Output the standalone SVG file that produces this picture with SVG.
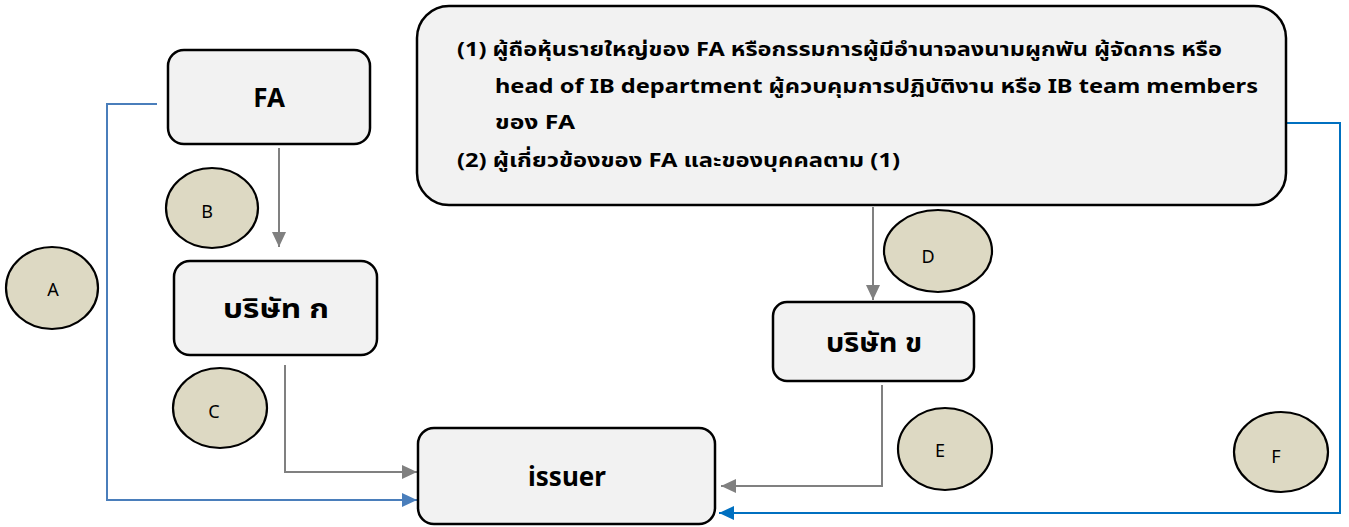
<svg xmlns="http://www.w3.org/2000/svg" width="1349" height="527" viewBox="0 0 1349 527">
<defs>
<style>
.node{fill:#f2f2f2;stroke:#000;stroke-width:2.5}
.lbl{font-family:"Noto Sans","Noto Sans Thai","Liberation Sans",sans-serif;font-size:26px;font-weight:bold;fill:#000;text-anchor:middle}
.circ{fill:#ddd9c3;stroke:#000;stroke-width:2.2}
.cl{font-family:"Noto Sans","Liberation Sans",sans-serif;font-size:18px;fill:#000;text-anchor:middle}
.txt{font-family:"Noto Sans","Noto Sans Thai","Liberation Sans",sans-serif;font-size:20px;font-weight:bold;fill:#000}
.gray{fill:none;stroke:#808080;stroke-width:2}
.blueL{fill:none;stroke:#4a7ebb;stroke-width:2}
.blueR{fill:none;stroke:#0070c0;stroke-width:2}
</style>
<marker id="ag" markerWidth="16" markerHeight="14" refX="15" refY="7" orient="auto" markerUnits="userSpaceOnUse"><path d="M0,0 L15,7 L0,14 Z" fill="#808080"/></marker>
<marker id="abL" markerWidth="16" markerHeight="14" refX="15" refY="7" orient="auto" markerUnits="userSpaceOnUse"><path d="M0,0 L15,7 L0,14 Z" fill="#4a7ebb"/></marker>
<marker id="abR" markerWidth="16" markerHeight="14" refX="15" refY="7" orient="auto" markerUnits="userSpaceOnUse"><path d="M0,0 L15,7 L0,14 Z" fill="#0070c0"/></marker>
</defs>
<rect width="1349" height="527" fill="#fff"/>
<g id="connectors">
<path class="blueL" d="M157,104 H107 V500 H417" marker-end="url(#abL)"/>
<path class="gray" d="M279,148 V247" marker-end="url(#ag)"/>
<path class="gray" d="M285,365 V472 H417" marker-end="url(#ag)"/>
<path class="gray" d="M873,207 V300" marker-end="url(#ag)"/>
<path class="gray" d="M882,385 V486 H721" marker-end="url(#ag)"/>
<path class="blueR" d="M1287,123 H1340 V513 H719" marker-end="url(#abR)"/>
</g>
<g id="node-info">
<rect class="node" x="417" y="6" width="869" height="199" rx="32"/>
<text class="txt" x="457" y="56" textLength="765" lengthAdjust="spacingAndGlyphs">(1) ผู้ถือหุ้นรายใหญ่ของ FA หรือกรรมการผู้มีอำนาจลงนามผูกพัน ผู้จัดการ หรือ</text>
<text class="txt" x="495" y="93" textLength="763" lengthAdjust="spacingAndGlyphs">head of IB department ผู้ควบคุมการปฏิบัติงาน หรือ IB team members</text>
<text class="txt" x="495" y="129" textLength="80" lengthAdjust="spacingAndGlyphs">ของ FA</text>
<text class="txt" x="457" y="167" textLength="443" lengthAdjust="spacingAndGlyphs">(2) ผู้เกี่ยวข้องของ FA  และของบุคคลตาม (1)</text>
</g>
<g id="node-FA">
<rect class="node" x="168" y="50" width="202" height="94" rx="16"/>
<text class="lbl" x="269" y="107">FA</text>
</g>
<g id="node-companyA">
<rect class="node" x="174" y="261" width="203" height="94" rx="16"/>
<text class="lbl" x="276" y="318" textLength="106" lengthAdjust="spacingAndGlyphs">บริษัท ก</text>
</g>
<g id="node-companyB">
<rect class="node" x="773" y="302" width="201" height="79" rx="14"/>
<text class="lbl" x="874" y="352" textLength="96" lengthAdjust="spacingAndGlyphs">บริษัท ข</text>
</g>
<g id="node-issuer">
<rect class="node" x="418" y="428" width="297" height="96" rx="16"/>
<text class="lbl" x="567" y="486">issuer</text>
</g>
<g id="label-A"><ellipse class="circ" cx="52" cy="288" rx="46" ry="41"/><text class="cl" x="53" y="296">A</text></g>
<g id="label-B"><ellipse class="circ" cx="212" cy="208" rx="46" ry="40"/><text class="cl" x="207" y="218">B</text></g>
<g id="label-C"><ellipse class="circ" cx="220" cy="408" rx="47" ry="40"/><text class="cl" x="214" y="418">C</text></g>
<g id="label-D"><ellipse class="circ" cx="938" cy="251" rx="54" ry="41"/><text class="cl" x="928" y="263">D</text></g>
<g id="label-E"><ellipse class="circ" cx="945" cy="449" rx="47" ry="41"/><text class="cl" x="940" y="457">E</text></g>
<g id="label-F"><ellipse class="circ" cx="1281" cy="452" rx="47" ry="40"/><text class="cl" x="1276" y="463">F</text></g>
</svg>
